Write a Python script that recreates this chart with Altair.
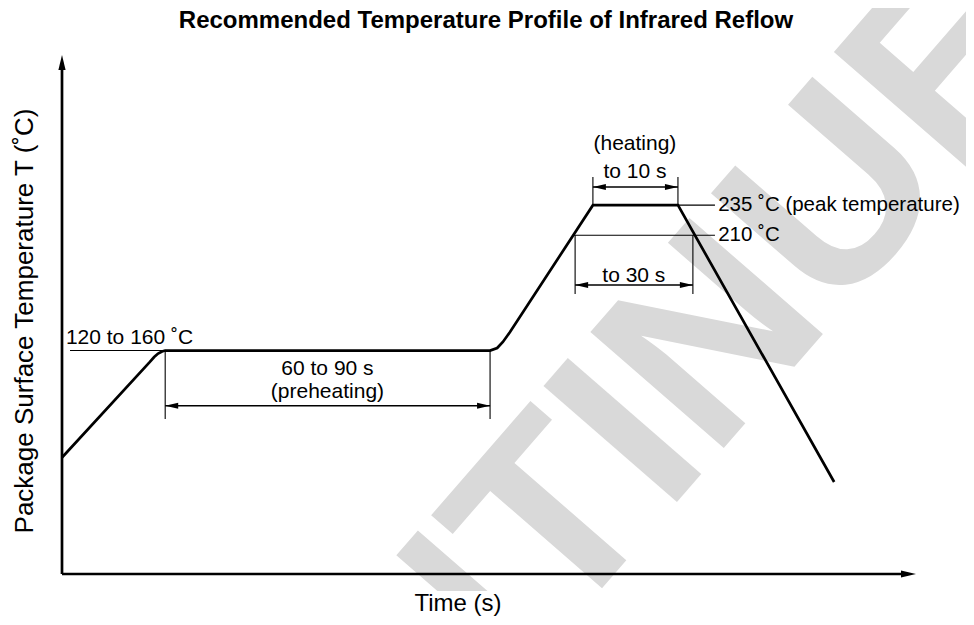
import altair as alt
import pandas as pd

FONT = "Liberation Sans"

# ---- schematic profile (time in s, temperature in deg C; not to scale) ----
profile_time = [0, 24.7, 25.9, 27.0, 28.1, 29.0, 120.3, 122.3, 123.9, 125.9, 149.2, 173.1, 217.0]
profile_temp = [25, 104.5, 108.6, 111.5, 113.2, 114, 114, 116.1, 121.1, 129.4, 235, 235, 4.6]

# thin guide / extension lines
guide_t1 = [2.25, 29.0, 120.3, 173.1, 143.6, 149.2, 173.1, 144.2, 177.3]
guide_t2 = [29.0, 29.0, 120.3, 183.5, 183.5, 149.2, 173.1, 144.2, 177.3]
guide_T1 = [114, 114, 114, 235, 210, 235, 235, 210, 210]
guide_T2 = [114, 57, 57, 235, 210, 258.4, 258.4, 161, 161]

# double-headed dimension arrows
arrow_t1 = [29.0, 149.2, 144.2]
arrow_t2 = [120.3, 173.1, 177.3]
arrow_T = [68, 250.1, 168.6]

# centred labels
center_labels = ["60 to 90 s", "(preheating)", "(heating)", "to 10 s", "to 30 s"]
center_t = [74.6, 74.6, 161.0, 161.0, 160.7]
center_T = [93.6, 74.5, 280.9, 257.6, 171.0]

# left labels
level_labels = ["235 ˚C (peak temperature)", "210 ˚C"]
level_t = [184.4, 184.4]
level_T = [235, 210]
preheat_label = "120 to 160 ˚C"
preheat_label_t = 1.1
preheat_label_T = 119.4

title_text = "Recommended Temperature Profile of Infrared Reflow"
x_title = "Time (s)"
y_title = "Package Surface Temperature T (˚C)"
watermark = "DISCONTINUED"

T_DOMAIN = [0, 240]
Y_DOMAIN = [-72, 360]

xs = alt.Scale(domain=T_DOMAIN, nice=False, zero=False)
ys = alt.Scale(domain=Y_DOMAIN, nice=False, zero=False)

def X(f="t"):
    return alt.X(f"{f}:Q", scale=xs, axis=None)

def Y(f="T"):
    return alt.Y(f"{f}:Q", scale=ys, axis=None)

profile = pd.DataFrame({"t": profile_time, "T": profile_temp, "i": range(len(profile_time))})
guides = pd.DataFrame({"t": guide_t1, "t2": guide_t2, "T": guide_T1, "T2": guide_T2})
arrows = pd.DataFrame({"t": arrow_t1, "t2": arrow_t2, "T": arrow_T})
clab = pd.DataFrame({"label": center_labels, "t": center_t, "T": center_T})
llab = pd.DataFrame({"label": level_labels, "t": level_t, "T": level_T})
plab = pd.DataFrame({"label": [preheat_label], "t": [preheat_label_t], "T": [preheat_label_T]})
xaxis = pd.DataFrame({"t": [T_DOMAIN[0]], "t2": [T_DOMAIN[1]], "T": [Y_DOMAIN[0]]})
yaxis = pd.DataFrame({"t": [T_DOMAIN[0]], "T": [Y_DOMAIN[0]], "T2": [Y_DOMAIN[1]]})
one = pd.DataFrame({"k": [0]})

RIGHT_HEAD = "M0,0 L-1,-0.23 L-1,0.23 Z"
LEFT_HEAD = "M0,0 L1,-0.23 L1,0.23 Z"
UP_HEAD = "M0,0 L-0.24,1 L0.24,1 Z"
AX_RIGHT_HEAD = "M0,0 L-1,-0.24 L-1,0.24 Z"

wm = alt.Chart(one).mark_text(
    text=watermark, font=FONT, fontWeight="bold", fontSize=257, color="#d9d9d9",
    angle=311, align="center", baseline="alphabetic"
).encode(x=alt.value(486.6), y=alt.value(594.6))

# the watermark stops just under the time axis (white band behind the axis title)
wm_mask = alt.Chart(one).mark_rect(color="white", opacity=1).encode(
    x=alt.value(-54), x2=alt.value(904), y=alt.value(536), y2=alt.value(562))

guide_layer = alt.Chart(guides).mark_rule(color="black", strokeWidth=1.1).encode(
    x=X(), x2="t2:Q", y=Y(), y2="T2:Q")

arrow_shaft = alt.Chart(arrows).mark_rule(color="black", strokeWidth=1.4).encode(
    x=X(), x2="t2:Q", y=Y())
arrow_left = alt.Chart(arrows).mark_point(
    shape=LEFT_HEAD, size=676, filled=True, color="black", opacity=1, strokeWidth=0
).encode(x=X(), y=Y())
arrow_right = alt.Chart(arrows).mark_point(
    shape=RIGHT_HEAD, size=676, filled=True, color="black", opacity=1, strokeWidth=0
).encode(x=X("t2"), y=Y())

x_axis_line = alt.Chart(xaxis).mark_rule(color="black", strokeWidth=2.7, x2Offset=-8).encode(
    x=X(), x2="t2:Q", y=Y())
x_axis_head = alt.Chart(xaxis).mark_point(
    shape=AX_RIGHT_HEAD, size=900, filled=True, color="black", opacity=1, strokeWidth=0
).encode(x=X("t2"), y=Y())
y_axis_line = alt.Chart(yaxis).mark_rule(color="black", strokeWidth=2.7, y2Offset=8).encode(
    x=X(), y=Y(), y2="T2:Q")
y_axis_head = alt.Chart(yaxis).mark_point(
    shape=UP_HEAD, size=900, filled=True, color="black", opacity=1, strokeWidth=0
).encode(x=X(), y=Y("T2"))

profile_line = alt.Chart(profile).mark_line(
    color="black", strokeWidth=2.7, strokeJoin="miter"
).encode(x=X(), y=Y(), order="i:Q")

center_text = alt.Chart(clab).mark_text(
    font=FONT, fontSize=21, color="black", align="center", baseline="alphabetic"
).encode(x=X(), y=Y(), text="label:N")
level_text = alt.Chart(llab).mark_text(
    font=FONT, fontSize=20.5, color="black", align="left", baseline="middle"
).encode(x=X(), y=Y(), text="label:N")
pre_text = alt.Chart(plab).mark_text(
    font=FONT, fontSize=21, color="black", align="left", baseline="alphabetic"
).encode(x=X(), y=Y(), text="label:N")

title_mark = alt.Chart(one).mark_text(
    text=title_text, font=FONT, fontSize=24, fontWeight="bold", color="black",
    align="center", baseline="alphabetic"
).encode(x=alt.value(424), y=alt.value(-27))
x_title_mark = alt.Chart(one).mark_text(
    text=x_title, font=FONT, fontSize=24, color="black", align="center", baseline="alphabetic"
).encode(x=alt.value(396), y=alt.value(556))
y_title_mark = alt.Chart(one).mark_text(
    text=y_title, font=FONT, fontSize=26, color="black", align="center",
    baseline="alphabetic", angle=270
).encode(x=alt.value(-29), y=alt.value(266))

chart = alt.layer(
    wm, wm_mask, guide_layer, arrow_shaft, arrow_left, arrow_right,
    x_axis_line, x_axis_head, y_axis_line, y_axis_head, profile_line,
    center_text, level_text, pre_text, title_mark, x_title_mark, y_title_mark
).properties(
    width=854, height=519,
    background="white",
    autosize=alt.AutoSizeParams(type="none"),
    padding={"left": 54, "top": 47, "right": 50, "bottom": 43},
).configure_view(strokeWidth=0)

chart.save("out.html", embed_options={"renderer": "svg", "actions": False})
